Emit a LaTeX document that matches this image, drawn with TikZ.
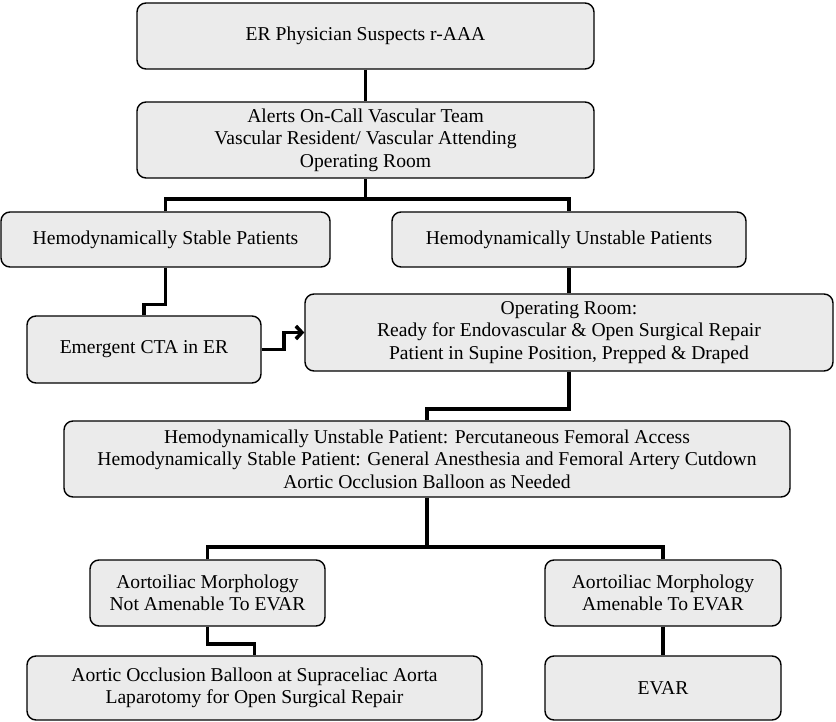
\documentclass[tikz,border=0pt]{standalone}
\usepackage{fontspec}
\setmainfont{Liberation Serif}
\usetikzlibrary{arrows.meta}
\begin{document}
\begin{tikzpicture}[x=1pt,y=-1pt,
  box/.style={draw,line width=1.4pt,rounded corners=9pt,fill=gray!16,align=center,inner sep=0pt,font=\fontsize{19.6}{22.5}\selectfont},
  link/.style={line width=3.6pt}]
\useasboundingbox (0,0) rectangle (836,722);
\node[box,minimum width=457,minimum height=66] (er) at (365.5,36) {ER Physician Suspects r-AAA};
\node[box,minimum width=457,minimum height=76] (alert) at (365.5,140) {Alerts On-Call Vascular Team\\ Vascular Resident/ Vascular Attending\\ Operating Room};
\node[box,minimum width=329,minimum height=55] (stable) at (165.5,239.5) {Hemodynamically Stable Patients};
\node[box,minimum width=354,minimum height=55] (unstable) at (569,239.5) {Hemodynamically Unstable Patients};
\node[box,minimum width=234,minimum height=67] (cta) at (144,349.5) {Emergent CTA in ER};
\node[box,minimum width=528,minimum height=77] (room) at (569,332.5) {Operating Room:\\ Ready for Endovascular \& Open Surgical Repair\\ Patient in Supine Position, Prepped \& Draped};
\node[box,minimum width=726,minimum height=76] (access) at (427,459) {Hemodynamically Unstable Patient: Percutaneous Femoral Access\\ Hemodynamically Stable Patient: General Anesthesia and Femoral Artery Cutdown\\ Aortic Occlusion Balloon as Needed};
\node[box,minimum width=235,minimum height=66] (notam) at (207.5,593) {Aortoiliac Morphology\\ Not Amenable To EVAR};
\node[box,minimum width=236,minimum height=66] (amen) at (663,593) {Aortoiliac Morphology\\ Amenable To EVAR};
\node[box,minimum width=455,minimum height=64] (balloon) at (254.5,688) {Aortic Occlusion Balloon at Supraceliac Aorta\\ Laparotomy for Open Surgical Repair};
\node[box,minimum width=236,minimum height=64] (evar) at (663,688) {EVAR};
\coordinate (split1) at (365.5,199);
\coordinate (split2) at (427,547);
\draw[link] (er) -- (alert);
\draw[link] (alert) -- (split1);
\draw[link] (stable.north) |- (split1) -| (unstable.north);
\draw[link] (stable.south) -- ++(0,37) -| (cta.north);
\draw[link,-{Straight Barb[length=6pt,width=13pt]}] (cta.east) -- ++(22,0) |- (room.west);
\draw[link] (unstable) -- (room);
\draw[link] (room.south) -- ++(0,37) -| (access.north);
\draw[link] (access) -- (split2);
\draw[link] (notam.north) |- (split2) -| (amen.north);
\draw[link] (notam.south) -- ++(0,17) -| (balloon.north);
\draw[link] (amen) -- (evar);
\end{tikzpicture}
\end{document}
